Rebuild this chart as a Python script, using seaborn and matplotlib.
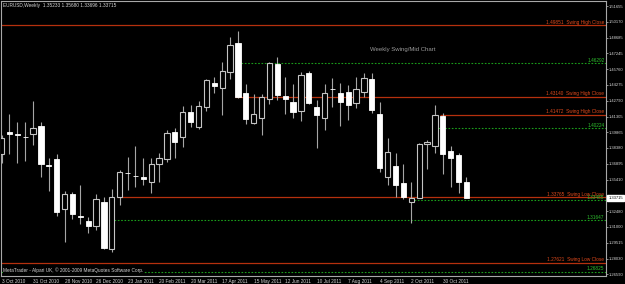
import numpy as np
import matplotlib
matplotlib.use("Agg")
import matplotlib.pyplot as plt
import seaborn as sns

# ---------------- data ----------------
weeks_count = 60  # weekly candles from 3 Oct 2010 to 20 Nov 2011
opens = [1.3782, 1.3985, 1.3965, 1.3945, 1.3969, 1.4044, 1.3675, 1.3735, 1.3267, 1.3408,
         1.3198, 1.3155, 1.3109, 1.3333, 1.2893, 1.3380, 1.3608, 1.3580, 1.3567, 1.3520,
         1.3688, 1.3735, 1.3987, 1.3941, 1.4174, 1.4034, 1.4221, 1.4446, 1.4399, 1.4548,
         1.4820, 1.4352, 1.4072, 1.4118, 1.4296, 1.4623, 1.4324, 1.4268, 1.4184, 1.4539,
         1.4221, 1.4118, 1.4392, 1.4352, 1.4361, 1.4259, 1.4361, 1.4483, 1.4156, 1.3567,
         1.3670, 1.3511, 1.3333, 1.3370, 1.3875, 1.3857, 1.4137, 1.3810, 1.3772, 1.35233]
highs = [1.3960, 1.4156, 1.4081, 1.4081, 1.4277, 1.4081, 1.3744, 1.3782, 1.3436, 1.3426,
         1.3492, 1.3193, 1.3408, 1.3380, 1.3454, 1.3632, 1.3754, 1.3857, 1.3744, 1.3744,
         1.3791, 1.4006, 1.4025, 1.4230, 1.4240, 1.4277, 1.4483, 1.4502, 1.4642, 1.4876,
         1.4932, 1.4436, 1.4343, 1.4343, 1.4642, 1.4689, 1.4502, 1.4436, 1.4548, 1.4558,
         1.4287, 1.4436, 1.4492, 1.4446, 1.4427, 1.4502, 1.4539, 1.4539, 1.4268, 1.3931,
         1.3791, 1.3688, 1.3520, 1.3885, 1.3913, 1.4240, 1.4165, 1.3857, 1.3791, 1.35680]
lows = [1.3700, 1.3780, 1.3698, 1.3716, 1.3866, 1.3567, 1.3436, 1.3202, 1.2959, 1.3174,
        1.3127, 1.3043, 1.3071, 1.2893, 1.2865, 1.3305, 1.3445, 1.3473, 1.3492, 1.3417,
        1.3520, 1.3707, 1.3744, 1.3847, 1.4034, 1.4015, 1.4184, 1.4352, 1.4146, 1.4483,
        1.4305, 1.4062, 1.4062, 1.3959, 1.4249, 1.4287, 1.4156, 1.4118, 1.4090, 1.4249,
        1.3838, 1.4006, 1.4221, 1.4044, 1.4100, 1.4212, 1.4315, 1.4165, 1.3613, 1.3492,
        1.3380, 1.3361, 1.3137, 1.3370, 1.3641, 1.3791, 1.3595, 1.3473, 1.3417, 1.33696]
closes = [1.3931, 1.3972, 1.3955, 1.3938, 1.4025, 1.3688, 1.3668, 1.3239, 1.3408, 1.3221,
          1.3190, 1.3109, 1.3361, 1.2903, 1.33765, 1.3613, 1.3600, 1.3574, 1.3548, 1.3688,
          1.3744, 1.3978, 1.3894, 1.4174, 1.4081, 1.4230, 1.4474, 1.4417, 1.4558, 1.4801,
          1.4314, 1.4109, 1.4156, 1.4315, 1.4629, 1.4333, 1.4296, 1.4174, 1.4520, 1.4259,
          1.4146, 1.4352, 1.4386, 1.4268, 1.4240, 1.4389, 1.4492, 1.4193, 1.3651, 1.3800,
          1.3492, 1.3380, 1.3370, 1.3875, 1.3894, 1.41472, 1.3782, 1.3744, 1.3520, 1.33715]

swing_levels = [1.49851, 1.43140, 1.41472, 1.33765, 1.27621]
swing_kinds = ["High", "High", "High", "Low", "Low"]
swing_from = [None, 30, 56, 15, None]          # candle index where the line starts
mid_levels = [1.46292, 1.40224, 1.33485, 1.31647, 1.26825]
mid_from = [30, 55, 52, 14, None]

xtick_idx = [0, 4, 8, 12, 16, 20, 24, 28, 32, 36, 40, 44, 48, 52, 56]
xtick_labels = ["3 Oct 2010", "31 Oct 2010", "28 Nov 2010", "26 Dec 2010", "23 Jan 2011",
                "20 Feb 2011", "20 Mar 2011", "17 Apr 2011", "15 May 2011", "12 Jun 2011",
                "10 Jul 2011", "7 Aug 2011", "4 Sep 2011", "2 Oct 2011", "30 Oct 2011"]
ytick_vals = [1.51655, 1.50170, 1.48685, 1.47245, 1.45760, 1.44275, 1.42790, 1.41305,
              1.39865, 1.38380, 1.36895, 1.35410, 1.33925, 1.32480, 1.31000, 1.29515,
              1.28030, 1.26590]
# the 1.33925 label is hidden behind the current-price box in the reference
ytick_labels = ["1.51655", "1.50170", "1.48685", "1.47245", "1.45760", "1.44275", "1.42790",
                "1.41305", "1.39865", "1.38380", "1.36895", "1.35410", "", "1.32480",
                "1.31000", "1.29515", "1.28030", "1.26590"]
header = "EURUSD,Weekly  1.35233 1.35680 1.33696 1.33715"
footer = "MetaTrader - Alpari UK, \u00a9 2001-2009 MetaQuotes Software Corp."
chart_title = "Weekly Swing/Mid Chart"

# ---------------- style ----------------
sns.set_theme(style="dark", rc={
    "axes.facecolor": "black", "figure.facecolor": "black",
    "axes.edgecolor": "#a8a8a8", "axes.grid": False,
})
plt.rcParams["font.family"] = ["Liberation Sans", "DejaVu Sans"]

RED_LINE = "#b5300e"
RED_TXT = "#e24a1c"
GREEN_LINE = "#1b9e1b"
GREEN_TXT = "#2fc02f"
AX_TXT = "#d6d6d6"
FS = 3.4
FS_AX = 3.0

W, H = 625, 284
fig = plt.figure(figsize=(W / 100, H / 100), dpi=100)
ax = fig.add_axes([1 / W, 8 / H, 605 / W, 275 / H])
ax.set_facecolor("black")

PX = 7.88   # pixels per candle
X0 = 1.5    # pixel centre of first candle
ax.set_xlim((1 - X0) / PX, (606 - X0) / PX)


def price_at(y):
    return 1.52216 - 0.000935 * y


ax.set_ylim(price_at(276), price_at(1))

# ---------------- candles ----------------
k = np.arange(len(opens))
o = np.array(opens)
c = np.array(closes)
h = np.array(highs)
l = np.array(lows)
bull = c > o
bw = 0.66
ax.vlines(k, l, h, color="#a6a6a6", lw=0.8, zorder=3)
ax.bar(k[bull], (c - o)[bull], bottom=o[bull], width=bw, color="black",
       edgecolor="#c4c4c4", linewidth=0.8, zorder=4)
bear_h = np.maximum((o - c)[~bull], 0.0002)
ax.bar(k[~bull], bear_h, bottom=c[~bull], width=bw, color="white",
       edgecolor="white", linewidth=0.6, zorder=4)

# ---------------- levels ----------------
xl, xr = ax.get_xlim()
for v, kind, s in zip(swing_levels, swing_kinds, swing_from):
    xs = xl if s is None else s - 0.33
    ax.hlines(v, xs, xr, color=RED_LINE, lw=0.9, zorder=2)
    ax.annotate(f"{v:.5f}  Swing {kind} Close", xy=(1, v),
                xycoords=("axes fraction", "data"), xytext=(-1.2, 0.5),
                textcoords="offset points", ha="right", va="bottom",
                fontsize=FS, color=RED_TXT, zorder=5)
for v, s in zip(mid_levels, mid_from):
    xs = xl if s is None else s + 0.33
    ax.hlines(v, xs, xr, color=GREEN_LINE, lw=0.8, linestyles=(0, (1.5, 1.5)), zorder=2)
    ax.annotate(f"{v:.5f}", xy=(1, v), xycoords=("axes fraction", "data"),
                xytext=(-1.2, 0.2), textcoords="offset points", ha="right",
                va="bottom", fontsize=FS, color=GREEN_TXT, zorder=5)

# ---------------- axes ----------------
for sp in ax.spines.values():
    sp.set_color("#a8a8a8")
    sp.set_linewidth(0.8)
ax.yaxis.tick_right()
ax.set_yticks(ytick_vals)
ax.set_yticklabels(ytick_labels)
ax.set_xticks(xtick_idx)
ax.set_xticklabels(xtick_labels, ha="left")
ax.tick_params(axis="y", colors="#a8a8a8", labelcolor=AX_TXT, labelsize=FS_AX,
               length=1.5, width=0.6, pad=0.8, direction="out", right=True, left=False)
ax.tick_params(axis="x", colors="#a8a8a8", labelcolor=AX_TXT, labelsize=FS,
               length=2, width=0.6, pad=0.3, direction="out")
for lab in ax.get_xticklabels():
    lab.set_horizontalalignment("left")

# current price box
ax.annotate(f"{closes[-1]:.5f}", xy=(1, closes[-1]), xycoords=("axes fraction", "data"),
            xytext=(1.8, 0), textcoords="offset points", ha="left", va="center",
            fontsize=FS_AX, color="black", annotation_clip=False, zorder=10,
            bbox=dict(boxstyle="square,pad=0.3", fc="white", ec="white"))

# texts
fig.text(3 / W, 1 - 5 / H, header, ha="left", va="center", fontsize=FS, color=AX_TXT)
fig.text(3 / W, 1 - 270 / H, footer, ha="left", va="center", fontsize=FS, color=AX_TXT,
         zorder=10, bbox=dict(boxstyle="square,pad=0.1", fc="black", ec="none"))
fig.text(370 / W, 1 - 49 / H, chart_title, ha="left", va="center", fontsize=4.3,
         color="#9a9a9a")

fig.savefig("out.png", dpi=100, facecolor="black")
